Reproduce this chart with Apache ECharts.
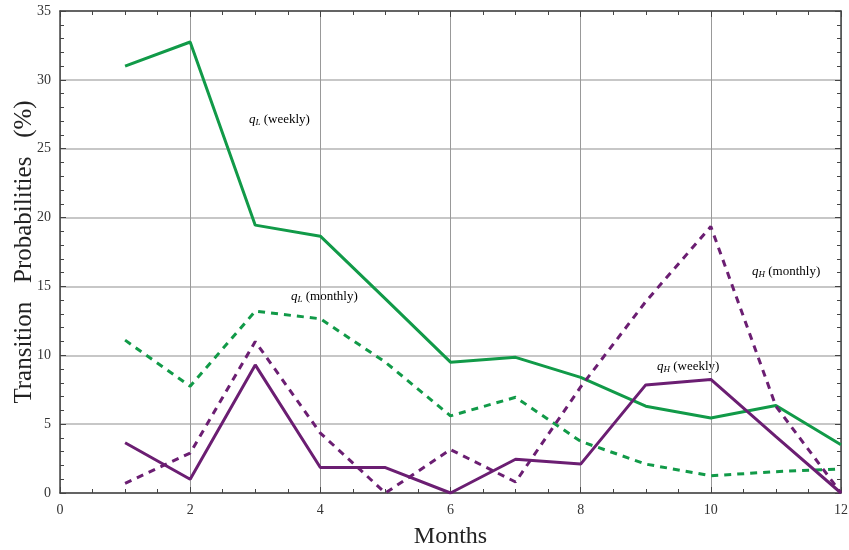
<!DOCTYPE html>
<html>
<head>
<meta charset="utf-8">
<script src="https://cdn.jsdelivr.net/npm/echarts@6/dist/echarts.min.js"></script>
<style>
  html, body { margin: 0; padding: 0; background: #fff; }
  #chart { width: 849px; height: 550px; }
</style>
</head>
<body>
<div id="chart"></div>
<script>
// months on the x axis
const months = [1, 2, 3, 4, 5, 6, 7, 8, 9, 10, 11, 12]
// transition probabilities (%)
const qLWeekly  = [31.0, 32.75, 19.45, 18.65, 14.1, 9.5, 9.85, 8.4, 6.3, 5.45, 6.35, 3.5]
const qLMonthly = [11.1, 7.75, 13.2, 12.65, 9.5, 5.6, 6.95, 3.75, 2.1, 1.25, 1.55, 1.75]
const qHWeekly  = [3.65, 1.0, 9.3, 1.85, 1.85, 0.0, 2.45, 2.1, 7.85, 8.25, 4.1, 0.0]
const qHMonthly = [0.7, 2.9, 11.0, 4.35, 0.0, 3.15, 0.8, 7.7, 13.9, 19.35, 6.3, 0.0]
const xTicks = [0, 2, 4, 6, 8, 10, 12]
const yTicks = [0, 5, 10, 15, 20, 25, 30, 35]

const green = '#119a48'
const purple = '#6b1e72'
const serif = '"Liberation Serif", "DejaVu Serif", serif'

const pairs = vals => months.map((m, i) => [m, vals[i]])

const chart = echarts.init(document.getElementById('chart'))

const tickStyle = { color: '#444', width: 1 }
const baseX = {
    type: 'value',
    min: xTicks[0],
    max: xTicks[xTicks.length - 1],
    interval: 2,
    axisLine: { show: true, onZero: false, lineStyle: { color: '#444', width: 1.5 } },
    axisTick: { show: true, inside: true, length: 6, lineStyle: tickStyle },
    minorTick: { show: true, splitNumber: 4, length: 4, lineStyle: tickStyle },
}
const baseY = {
    type: 'value',
    min: yTicks[0],
    max: yTicks[yTicks.length - 1],
    interval: 5,
    axisLine: { show: true, onZero: false, lineStyle: { color: '#444', width: 1.5 } },
    axisTick: { show: true, inside: true, length: 6, lineStyle: tickStyle },
    minorTick: { show: true, splitNumber: 5, length: 4, lineStyle: tickStyle },
}

const label = (sub, txt) => ({
    rich: {
        q: { fontFamily: serif, fontStyle: 'italic', fontSize: 13, color: '#333' },
        s: { fontFamily: serif, fontStyle: 'italic', fontSize: 9, color: '#333', padding: [6, 0, 0, 0] },
        t: { fontFamily: serif, fontSize: 13, color: '#333' }
    },
    text: '{q|q}{s|' + sub + '}{t| (' + txt + ')}'
})

const option = {
    animation: false,
    backgroundColor: '#fff',
    grid: { left: 60, right: 8, top: 11, bottom: 57, containLabel: false, outerBoundsMode: 'none' },
    xAxis: [
        Object.assign({}, baseX, {
            position: 'bottom',
            name: 'Months',
            nameLocation: 'middle',
            nameGap: 32,
            nameMoveOverlap: false,
            nameTextStyle: { fontFamily: serif, fontSize: 24, color: '#222' },
            axisLabel: { fontFamily: serif, fontSize: 14, color: '#333', margin: 10 },
            splitLine: { show: true, lineStyle: { color: '#999', width: 1 } }
        }),
        Object.assign({}, baseX, {
            position: 'top',
            axisLabel: { show: false },
            splitLine: { show: false }
        })
    ],
    yAxis: [
        Object.assign({}, baseY, {
            position: 'left',
            name: 'Transition   Probabilities   (%)',
            nameLocation: 'middle',
            nameGap: 23,
            nameMoveOverlap: false,
            nameTextStyle: { fontFamily: serif, fontSize: 25, color: '#222' },
            axisLabel: { fontFamily: serif, fontSize: 14, color: '#333', margin: 9 },
            splitLine: { show: true, lineStyle: { color: '#b4b4b4', width: 1.5 } }
        }),
        Object.assign({}, baseY, {
            position: 'right',
            axisLabel: { show: false },
            splitLine: { show: false }
        })
    ],
    series: [
        { name: 'qL weekly', type: 'line', data: pairs(qLWeekly), symbol: 'none',
          lineStyle: { color: green, width: 3 } },
        { name: 'qL monthly', type: 'line', data: pairs(qLMonthly), symbol: 'none',
          lineStyle: { color: green, width: 3, type: [7, 6] } },
        { name: 'qH weekly', type: 'line', data: pairs(qHWeekly), symbol: 'none',
          lineStyle: { color: purple, width: 3 } },
        { name: 'qH monthly', type: 'line', data: pairs(qHMonthly), symbol: 'none',
          lineStyle: { color: purple, width: 3, type: [7, 6] } }
    ],
    graphic: [
        { type: 'text', left: 249, top: 113, style: label('L', 'weekly') },
        { type: 'text', left: 291, top: 290, style: label('L', 'monthly') },
        { type: 'text', left: 752, top: 265, style: label('H', 'monthly') },
        { type: 'text', left: 657, top: 360, style: label('H', 'weekly') }
    ]
}

chart.setOption(option)
</script>
</body>
</html>
